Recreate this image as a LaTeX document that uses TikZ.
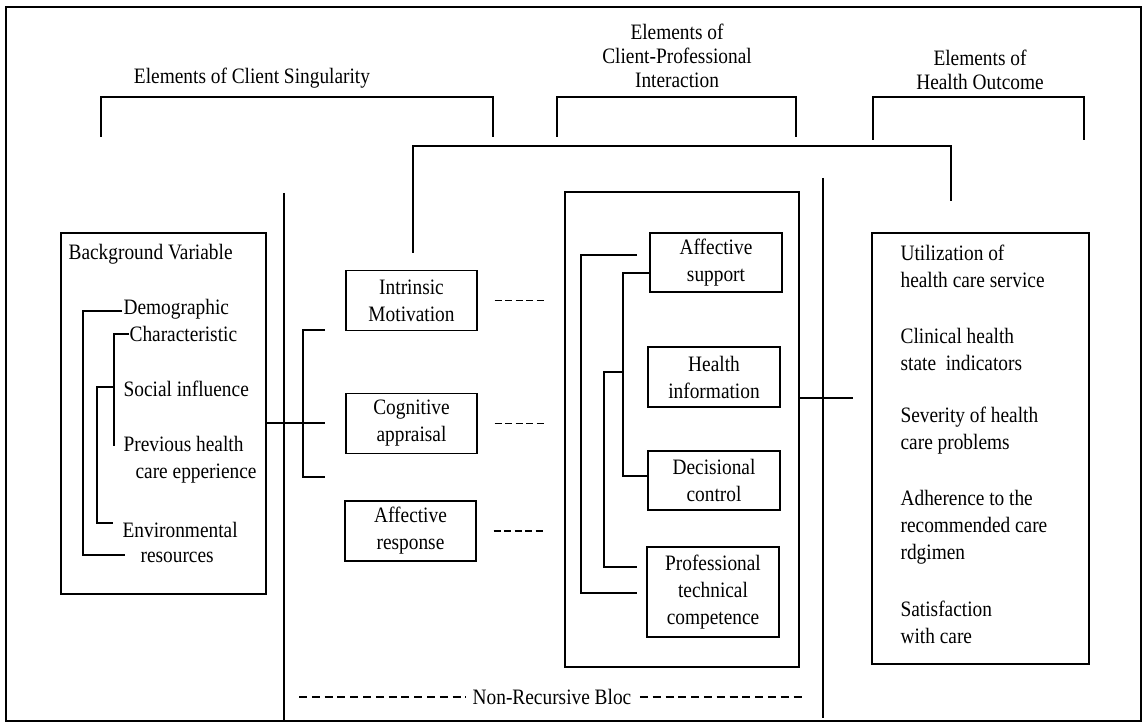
\documentclass[tikz,border=0pt]{standalone}
\usepackage{fontspec}
\setmainfont[FakeStretch=0.88]{Liberation Serif}
\begin{document}
\begin{tikzpicture}[x=1pt,y=-1pt,line width=1.2pt,
  txt/.style={font=\fontsize{22}{27}\selectfont,inner sep=0pt},
  ttl/.style={font=\fontsize{22}{24}\selectfont,inner sep=0pt,align=center},
  box/.style={draw,minimum width=131pt,minimum height=60pt,align=center,
    font=\fontsize{22}{27}\selectfont,inner sep=0pt},
  ibox/.style={box,minimum width=132pt},
  bigbox/.style={draw,inner sep=0pt},
  dsh/.style={dash pattern=on 7pt off 3.5pt},
  ndsh/.style={dash pattern=on 8pt off 4.8pt}]
\useasboundingbox (0,0) rectangle (1145,727);
\draw[line width=1.3pt] (6,7) rectangle (1141,721);

% titles
\node[ttl] (t1) at (252,78) {Elements of Client Singularity};
\node[ttl] (t2) at (677,56) {Elements of\\Client-Professional\\Interaction};
\node[ttl] (t3) at (980,70) {Elements of\\Health Outcome};

% title brackets
\coordinate (b1a) at (101,137); \coordinate (b1b) at (493,137);
\coordinate (b2a) at (557,137); \coordinate (b2b) at (796,137);
\coordinate (b3a) at (873,140); \coordinate (b3b) at (1084,140);
\draw (b1a) -- (101,97) -- (493,97) -- (b1b);
\draw (b2a) -- (557,97) -- (796,97) -- (b2b);
\draw (b3a) -- (873,97) -- (1084,97) -- (b3b);

% dividers
\coordinate (d1t) at (284,193); \coordinate (d1b) at (284,720);
\coordinate (d2t) at (823,178); \coordinate (d2b) at (823,718);
\draw (d1t) -- (d1b);
\draw (d2t) -- (d2b);

% background box
\node[bigbox,minimum width=205pt,minimum height=361pt] (bg) at (163.5,413.5) {};
\node[txt,anchor=base west] (bgv) at (68,259) {Background Variable};
\node[txt,anchor=base west] (dem) at (123,314) {Demographic};
\node[txt,anchor=base west] (cha) at (129,341) {Characteristic};
\node[txt,anchor=base west] (soc) at (123,396) {Social influence};
\node[txt,anchor=base west] (pre) at (123,451) {Previous health};
\node[txt,anchor=base west] (car) at (135,478) {care epperience};
\node[txt,anchor=base west] (env) at (122,537) {Environmental};
\node[txt,anchor=base west] (res) at (140,562) {resources};
\draw ([xshift=-1pt]dem.west |- 0,311) -- (83,311) -- (83,555) -- (125,555);
\draw (cha.west |- 0,334) -- (114,334) -- (114,446);
\draw (114,387) -- (97,387) -- (97,523) -- (113,523);

% left column boxes
\node[box] (intr) at (411.5,300.5) {Intrinsic\\Motivation};
\node[box] (cog) at (411.5,423.5) {Cognitive\\appraisal};
\node[box] (afr) at (410.5,531) {Affective\\response};

\coordinate (lb1) at (325,330); \coordinate (lb2) at (325,423); \coordinate (lb3) at (325,477);
\draw (bg.east |- lb2) -- (lb2);
\draw (lb1) -- (303,330) -- (303,477) -- (lb3);

\foreach \n in {intr,cog,afr}
  \draw[dsh] ([xshift=17pt]\n.east) -- ([xshift=69pt]\n.east);

% big bracket
\coordinate (bbr) at (951,201);
\draw ([yshift=17pt]intr.north -| 413,0) -- (413,146) -- (951,146) -- (bbr);

% middle box
\node[bigbox,minimum width=234pt,minimum height=475pt] (mid) at (682,429.5) {};
\node[ibox,minimum height=59pt] (as) at (716,262.5) {Affective\\support};
\node[ibox] (hi) at (714,377) {Health\\information};
\node[ibox,minimum height=59pt] (dc) at (714,480.5) {Decisional\\control};
\node[ibox,minimum height=90pt] (ptc) at (713,592) {Professional\\technical\\competence};

\draw (637,255) -- (581,255) -- (581,593) -- (637,593);
\draw (as.west |- 0,273) -- (623,273) -- (623,476) -- (dc.west |- 0,476);
\draw (623,372) -- (604,372) -- (604,567) -- (637,567);

% link to outcomes
\coordinate (oc) at (853,398);
\draw (mid.east |- oc) -- (oc);

% outcome box
\node[bigbox,minimum width=217pt,minimum height=431pt] (out) at (980.5,448.5) {};
\node[txt,anchor=west,align=left] (o1) at (900,266) {Utilization of\\health care service};
\node[txt,anchor=west,align=left] (o2) at (900,349) {Clinical health\\state\ \ indicators};
\node[txt,anchor=west,align=left] (o3) at (900,431) {Severity of health\\care problems};
\node[txt,anchor=west,align=left] (o4) at (900,527) {Adherence to the\\recommended care\\rdgimen};
\node[txt,anchor=west,align=left] (o5) at (900,622) {Satisfaction\\with care};

% non-recursive bloc
\node[txt] (nrb) at (552,697) {Non-Recursive Bloc};
\coordinate (nl) at (299,697); \coordinate (nr) at (805,697);
\draw[ndsh] (nl) -- ([xshift=-6pt]nrb.west);
\draw[ndsh] ([xshift=8pt]nrb.east) -- (nr);
\end{tikzpicture}
\end{document}
